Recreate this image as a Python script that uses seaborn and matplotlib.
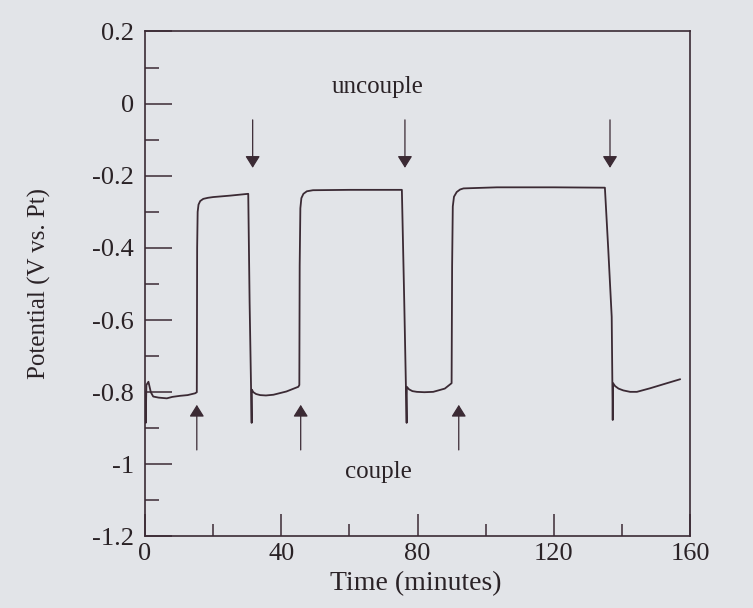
import matplotlib
matplotlib.use("Agg")
import matplotlib.pyplot as plt
from matplotlib.ticker import MultipleLocator, FuncFormatter
import seaborn as sns
import pandas as pd

# Galvanic potential trace while the electrodes are coupled / uncoupled
time_min = [0.0, 0.2, 0.4, 1.0, 1.7, 2.4, 4.0, 6.4, 8.0, 10.3, 12.5, 14.7, 15.2,
            15.3, 15.45, 15.7, 16.2, 17.1, 18.5, 20.0, 25.0, 30.3,
            30.7, 31.3, 31.35, 31.8, 32.6, 33.8, 35.5, 37.7, 41.5, 45.0, 45.3,
            45.4, 45.6, 45.9, 46.5, 47.5, 49.3, 60.0, 75.4,
            76.1, 76.8, 76.85, 77.5, 78.5, 79.8, 82.0, 84.6, 88.0, 90.0,
            90.15, 90.35, 90.7, 91.5, 92.5, 93.5, 103.3, 120.0, 135.0,
            136.0, 137.0, 137.3, 137.4, 138.0, 139.0, 140.4, 142.4, 144.4, 148.3, 152.5, 157.1]
potential_v = [-0.80, -0.885, -0.78, -0.771, -0.800, -0.812, -0.815, -0.817, -0.813, -0.810, -0.808, -0.803, -0.800,
               -0.40, -0.300, -0.280, -0.270, -0.264, -0.261, -0.259, -0.255, -0.250,
               -0.55, -0.885, -0.793, -0.800, -0.805, -0.808, -0.809, -0.807, -0.798, -0.785, -0.780,
               -0.45, -0.290, -0.262, -0.250, -0.243, -0.240, -0.239, -0.239,
               -0.55, -0.885, -0.785, -0.792, -0.797, -0.799, -0.800, -0.799, -0.790, -0.775,
               -0.45, -0.285, -0.258, -0.245, -0.238, -0.235, -0.232, -0.232, -0.233,
               -0.406, -0.591, -0.877, -0.775, -0.783, -0.790, -0.795, -0.799, -0.799, -0.789, -0.777, -0.764]

# Switching events: arrow x-positions (minutes)
uncouple_times = [31.6, 76.3, 136.5]
couple_times = [15.2, 45.7, 92.1]

x_ticks = [0, 40, 80, 120, 160]
y_ticks = [0.2, 0, -0.2, -0.4, -0.6, -0.8, -1, -1.2]

ink = "#3b2a34"
paper = "#e2e4e8"

sns.set_theme(style="ticks")
plt.rcParams["font.family"] = ["Liberation Serif", "DejaVu Serif"]
plt.rcParams["axes.unicode_minus"] = False

fig = plt.figure(figsize=(7.53, 6.08), dpi=100, facecolor=paper)
ax = fig.add_axes([0.1926, 0.1176, 0.7238, 0.8306], facecolor=paper)

df = pd.DataFrame({"Time (minutes)": time_min, "Potential (V vs. Pt)": potential_v})
sns.lineplot(data=df, x="Time (minutes)", y="Potential (V vs. Pt)", sort=False,
             estimator=None, color=ink, linewidth=1.3, ax=ax)

ax.set_xlim(0, 160)
ax.set_ylim(-1.2, 0.2)
ax.set_xticks(x_ticks)
ax.set_yticks(y_ticks)
ax.xaxis.set_minor_locator(MultipleLocator(20))
ax.yaxis.set_minor_locator(MultipleLocator(0.1))
ax.xaxis.set_major_formatter(FuncFormatter(lambda v, p: f"{v:g}"))
ax.yaxis.set_major_formatter(FuncFormatter(lambda v, p: f"{round(v, 1):g}"))

ax.tick_params(axis="x", which="major", direction="in", length=15.8, width=1.1,
               color=ink, labelsize=19, labelcolor="#2a2226", pad=5)
ax.tick_params(axis="x", which="minor", direction="in", length=8.6, width=1.1, color=ink)
ax.tick_params(axis="y", which="major", direction="in", length=19.4, width=1.1,
               color=ink, labelsize=19, labelcolor="#2a2226", pad=8)
ax.tick_params(axis="y", which="minor", direction="in", length=10, width=1.1, color=ink)

for side in ["left", "right", "top", "bottom"]:
    ax.spines[side].set_visible(True)
    ax.spines[side].set_color(ink)
    ax.spines[side].set_linewidth(1.2)

ax.set_xlabel("Time (minutes)", fontsize=20, color="#2a2226")
ax.set_ylabel("Potential (V vs. Pt)", fontsize=18, color="#2a2226")
ax.xaxis.set_label_coords(0.497, -0.068)
ax.yaxis.set_label_coords(-0.172, 0.5)

arrow_style = dict(arrowstyle="-|>,head_length=0.72,head_width=0.45", mutation_scale=10,
                   color=ink, linewidth=0.9, shrinkA=0, shrinkB=0)
for t in uncouple_times:
    ax.annotate("", xy=(t, -0.178), xytext=(t, -0.045), arrowprops=arrow_style)
for t in couple_times:
    ax.annotate("", xy=(t, -0.835), xytext=(t, -0.96), arrowprops=arrow_style)

ax.text(68.2, 0.030, "uncouple", ha="center", va="baseline", fontsize=18, color="#2a2226")
ax.text(68.4, -1.039, "couple", ha="center", va="baseline", fontsize=18, color="#2a2226")

fig.savefig("out.png", dpi=100, facecolor=paper)
